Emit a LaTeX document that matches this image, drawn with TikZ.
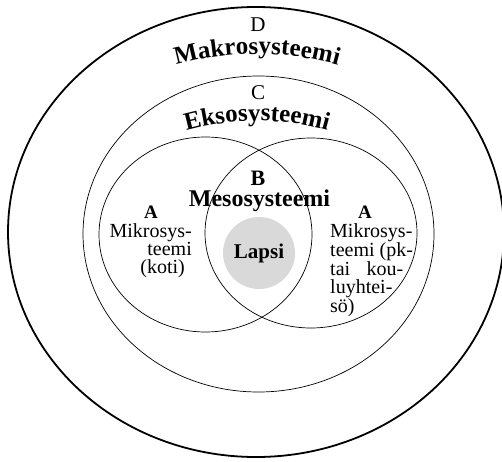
\documentclass[tikz,border=0pt]{standalone}
\usepackage{fontspec}
\setmainfont{Liberation Serif}
\usetikzlibrary{decorations.text}

\definecolor{lapsigray}{RGB}{217,217,217}

\tikzset{
    outer system/.style={draw=black, line width=1.8pt},
    system/.style={draw=black, line width=0.7pt},
    letter/.style={anchor=base, inner sep=0pt, font=\fontsize{21}{21}\selectfont},
    small letter/.style={anchor=base, inner sep=0pt, font=\bfseries\fontsize{19}{19}\selectfont},
    level/.style={anchor=base, inner sep=0pt, font=\bfseries\fontsize{24}{24}\selectfont},
    micro/.style={inner sep=0pt, font=\fontsize{20}{18}\selectfont},
    child/.style={circle, fill=lapsigray, minimum size=72pt, inner sep=0pt,
        font=\bfseries\fontsize{21}{21}\selectfont},
    arch label/.style={decorate, decoration={text along path, text align=center,
        text={|\bfseries\fontsize{25}{25}\selectfont|#1}}},
}

\begin{document}
\begin{tikzpicture}[x=1pt, y=1pt]
    \useasboundingbox (0,0) rectangle (502,461);

    % D: macrosystem
    \draw[outer system] (256,229) ellipse [x radius=248, y radius=225];
    \node[letter] (d) at (258,429) {D};
    \path[arch label=Makrosysteemi] (257,107) ++(120:300) arc (120:60:300);

    % C: exosystem
    \draw[system] (258.5,227) ellipse [x radius=175.5, y radius=158];
    \node[letter] (c) at (258,361) {C};
    \path[arch label=Eksosysteemi] (257,80) ++(118:260) arc (118:62:260);

    % A: the two microsystems, B: their overlap
    \draw[system] (205.5,226.5) ellipse [x radius=106.5, y radius=97.5];
    \draw[system] (311,228) ellipse [x radius=106, y radius=95];
    \node[letter, font=\bfseries\fontsize{22}{22}\selectfont] (b) at (258,276) {B};
    \node[level] (meso) at (259.5,255) {Mesosysteemi};

    \node[small letter] (a home) at (151,243) {A};
    \node[micro, anchor=north east, align=right] (home) at (192,238)
        {Mikrosys-\\teemi\hspace*{9pt}\\(koti)\hspace*{7pt}};
    \node[small letter] (a school) at (365,243) {A};
    \node[micro, anchor=north west, align=left] (school) at (330,238)
        {Mikrosys-\\teemi (pk-\\\makebox[73pt][s]{tai kou-}\\luyhtei-\\sö)};

    % the child in the centre
    \node[child] (lapsi) at (259,208) {Lapsi};

\end{tikzpicture}
\end{document}
